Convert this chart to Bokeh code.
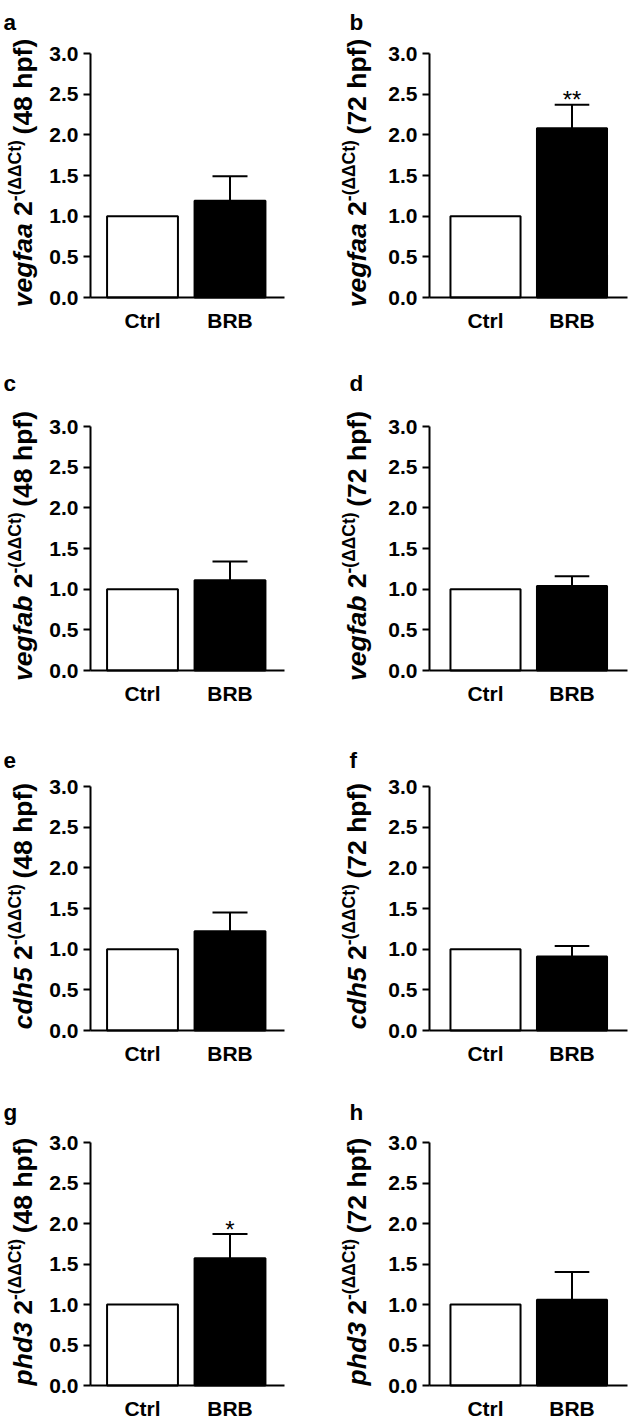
import math
from bokeh.plotting import figure
from bokeh.layouts import column, row
from bokeh.models import (Range1d, FixedTicker, ColumnDataSource, NumeralTickFormatter,
                          Label, LinearAxis, Grid)
from bokeh.embed import file_html
from bokeh.resources import INLINE
from bokeh.core.properties import value

# ---------------- data ----------------
categories = ["Ctrl", "BRB"]
panel_letters = ["a", "b", "c", "d", "e", "f", "g", "h"]
genes = ["vegfaa", "vegfaa", "vegfab", "vegfab", "cdh5", "cdh5", "phd3", "phd3"]
stages = ["48 hpf", "72 hpf", "48 hpf", "72 hpf", "48 hpf", "72 hpf", "48 hpf", "72 hpf"]
ctrl_mean = [1.0, 1.0, 1.0, 1.0, 1.0, 1.0, 1.0, 1.0]
brb_mean = [1.19, 2.08, 1.11, 1.04, 1.22, 0.91, 1.57, 1.06]
brb_err_top = [1.49, 2.37, 1.34, 1.16, 1.45, 1.04, 1.87, 1.40]
significance = ["", "**", "", "", "", "", "*", ""]
y_ticks = [0.0, 0.5, 1.0, 1.5, 2.0, 2.5, 3.0]
superscript = "-(\u0394\u0394Ct)"

# ---------------- layout (pixels, per panel canvas) ----------------
COL_W = 314
ROW_H = [345, 376, 355, 344]
ZERO_PX = [297, 325, 309, 309]      # y of the 0.0 line inside each row
TOP_PX = [53, 81, 65, 66]           # y of the 3.0 tick inside each row
CTRL_PX = [142, 171]                # x of the Ctrl bar centre inside each column
STEP_PX = [87.5, 86.5]              # px between bar centres
AXIS_PX = [90, 115]                 # x of the y axis
XEND_PX = [284, 313]                # right end of the x axis
LETTER_PX = [3, 35]
LETTER_BASE = [22, 38, 39, 36]
YLABEL_BASE = [22, 42]
BAR_W = 0.81
CAP_HALF = 0.2
Y_MAX = 3.0

FONT = "Liberation Sans"
F_MAIN = 26.5
F_SUP = 17.5
SUP_RAISE = 8

EM = {' ': .278, '(': .333, ')': .333, '-': .333, 'a': .556, 'b': .611, 'c': .556,
      'd': .611, 'e': .556, 'f': .333, 'g': .611, 'h': .611, 'p': .611, 't': .333,
      'v': .556, 'C': .722, '\u0394': .67}
for d in "0123456789":
    EM[d] = .556


def text_w(s, size):
    return sum(EM.get(ch, .6) for ch in s) * size


def make_panel(i):
    r, c = divmod(i, 2)
    h = ROW_H[r]
    py_unit = (ZERO_PX[r] - TOP_PX[r]) / Y_MAX

    def dx(px):
        return (px - CTRL_PX[c]) / STEP_PX[c]

    def dy(py):  # py measured downward from top of the panel canvas
        return (ZERO_PX[r] - py) / py_unit

    p = figure(width=COL_W, height=h, output_backend="svg", toolbar_location=None,
               x_range=Range1d(dx(0), dx(COL_W)), y_range=Range1d(dy(h), dy(0)),
               x_axis_location=None, y_axis_location=None, title=None)
    p.min_border_left = p.min_border_right = p.min_border_top = p.min_border_bottom = 0
    p.min_border = 0
    p.outline_line_color = None
    p.background_fill_color = "white"
    p.border_fill_color = "white"
    for g in p.select(type=Grid):
        g.visible = False

    xs = list(range(len(categories)))
    src = ColumnDataSource(dict(x=xs, top=[ctrl_mean[i], brb_mean[i]],
                                fill=["white", "black"]))
    p.segment(x0=[xs[1]], y0=[brb_mean[i]], x1=[xs[1]], y1=[brb_err_top[i]],
              line_color="black", line_width=2)
    p.segment(x0=[xs[1] - CAP_HALF], y0=[brb_err_top[i]], x1=[xs[1] + CAP_HALF],
              y1=[brb_err_top[i]], line_color="black", line_width=2)
    p.vbar(x="x", top="top", bottom=0, width=BAR_W, fill_color="fill",
           line_color="black", line_width=2, source=src)
    if significance[i]:
        p.text(x=[xs[1]], y=[brb_err_top[i]], text=[significance[i]],
               text_align="center", text_baseline="alphabetic", y_offset=-5,
               text_font=value(FONT), text_font_size="24px", text_color="black")

    # x axis placed at y = 0
    xa = LinearAxis(fixed_location=0.0, bounds=(dx(AXIS_PX[c]), dx(XEND_PX[c])))
    xa.ticker = FixedTicker(ticks=xs)
    xa.major_label_overrides = {x: lab for x, lab in zip(xs, categories)}
    xa.axis_line_width = 2
    xa.axis_line_color = "black"
    xa.major_tick_out = 0
    xa.major_tick_in = 0
    xa.major_tick_line_color = None
    xa.minor_tick_line_color = None
    xa.major_label_standoff = 11
    xa.major_label_text_font = FONT
    xa.major_label_text_font_style = "bold"
    xa.major_label_text_font_size = "21px"
    xa.major_label_text_color = "black"
    p.add_layout(xa, "below")

    # y axis placed at the left end of the x axis
    ya = LinearAxis(fixed_location=dx(AXIS_PX[c]), bounds=(0.0, Y_MAX))
    ya.ticker = FixedTicker(ticks=y_ticks)
    ya.formatter = NumeralTickFormatter(format="0.0")
    ya.axis_line_width = 2
    ya.axis_line_color = "black"
    ya.major_tick_out = 7
    ya.major_tick_in = 0
    ya.major_tick_line_width = 2
    ya.major_tick_line_color = "black"
    ya.minor_tick_line_color = None
    ya.major_label_standoff = 5
    ya.major_label_text_font = FONT
    ya.major_label_text_font_style = "bold"
    ya.major_label_text_font_size = "21px"
    ya.major_label_text_color = "black"
    p.add_layout(ya, "left")

    # panel letter
    p.add_layout(Label(x=dx(LETTER_PX[c]), y=dy(LETTER_BASE[r]), text=panel_letters[i],
                       text_font=FONT, text_font_style="bold", text_font_size="22.5px",
                       text_align="left", text_baseline="alphabetic", text_color="black"))

    # rotated y label made of pieces (reads bottom to top); gaps stand for spaces
    space = EM[' ']
    pieces = [
        (genes[i], "bold italic", F_MAIN, 0, 0.0),
        ("2", "bold", F_MAIN, 0, space * F_MAIN),
        (superscript, "bold", F_SUP, SUP_RAISE, 0.0),
        ("(" + stages[i] + ")", "bold", F_MAIN, 0, space * F_MAIN),
    ]
    total = sum(text_w(t, s) + gap for t, _, s, _, gap in pieces)
    centre = (ZERO_PX[r] + TOP_PX[r]) / 2 - 2.5
    py = centre + total / 2          # start (bottom) of the label
    for t, style, size, raise_, gap in pieces:
        py -= gap
        p.add_layout(Label(x=dx(YLABEL_BASE[c] - raise_), y=dy(py), text=t,
                           angle=math.pi / 2, text_font=FONT, text_font_style=style,
                           text_font_size=f"{size}px", text_align="left",
                           text_baseline="alphabetic", text_color="black"))
        py -= text_w(t, size)
    return p


rows = [row(make_panel(2 * k), make_panel(2 * k + 1), spacing=0) for k in range(4)]
layout = column(*rows, spacing=0)

with open("out.html", "w") as fh:
    fh.write(file_html(layout, INLINE))
